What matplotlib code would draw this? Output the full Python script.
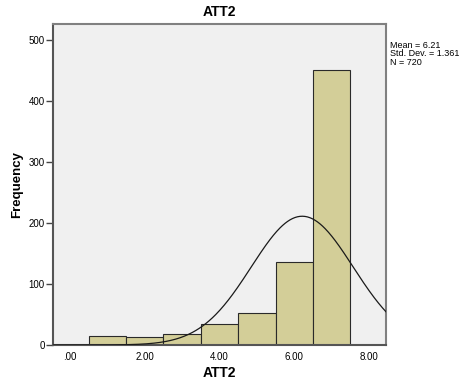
import matplotlib
matplotlib.use("Agg")
import matplotlib.pyplot as plt
import numpy as np

plt.rcParams['font.family'] = ['Liberation Sans', 'DejaVu Sans']

# Histogram data
bin_centers = [1, 2, 3, 4, 5, 6, 7]
counts = [14, 13, 18, 35, 53, 136, 451]
mean = 6.21
std_dev = 1.361
n_total = 720
x_ticks = [0, 2, 4, 6, 8]
x_tick_labels = [".00", "2.00", "4.00", "6.00", "8.00"]
y_ticks = [0, 100, 200, 300, 400, 500]

fig = plt.figure(figsize=(4.63, 3.88), dpi=100)
ax = fig.add_axes([0.1145, 0.1108, 0.7192, 0.8272])
ax.set_facecolor('#f0f0f0')

ax.bar(bin_centers, counts, width=1.0, color='#d3ce98',
       edgecolor='#2a2a2a', linewidth=0.8, zorder=2)

# Fitted normal curve
xs = np.linspace(-0.45, 8.45, 400)
ys = n_total * 1.0 / (std_dev * np.sqrt(2 * np.pi)) * np.exp(-0.5 * ((xs - mean) / std_dev) ** 2)
ax.plot(xs, ys, color='#1a1a1a', linewidth=0.9, zorder=3)

ax.set_xlim(-0.45, 8.45)
ax.set_ylim(0, 526)
ax.set_xticks(x_ticks)
ax.set_xticklabels(x_tick_labels)
ax.set_yticks(y_ticks)
ax.tick_params(axis='both', labelsize=7, length=5, width=1, color='#444444',
               direction='out', pad=1)
ax.tick_params(axis='x', length=0, pad=5)

for side in ax.spines.values():
    side.set_color('#808080')
    side.set_linewidth(1.5)
ax.spines['left'].set_color('#555555')
ax.spines['bottom'].set_color('#555555')

ax.set_title('ATT2', fontsize=10, fontweight='bold', pad=6)
ax.set_xlabel('ATT2', fontsize=10, fontweight='bold', labelpad=3)
ax.set_ylabel('Frequency', fontsize=9.5, fontweight='bold', labelpad=4)

fig.text(0.842, 0.895, "Mean = %.2f\nStd. Dev. = %.3f\nN = %d" % (mean, std_dev, n_total),
         fontsize=6.5, va='top', ha='left', linespacing=0.95)

fig.savefig('out.png', dpi=100)
